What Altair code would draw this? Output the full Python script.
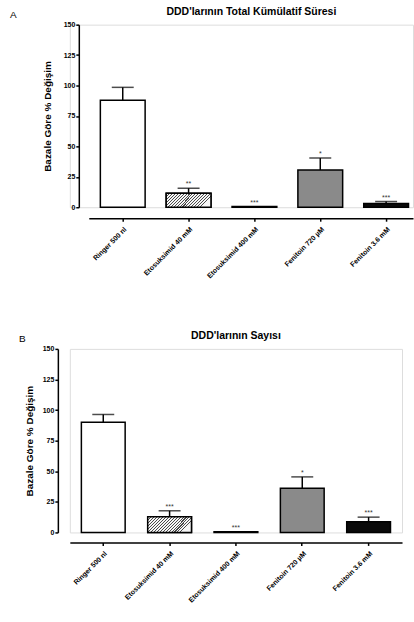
import altair as alt
import pandas as pd

categories = ["Ringer 500 nl", "Etosuksimid 40 mM", "Etosuksimid 400 mM", "Fenitoin 720 µM", "Fenitoin 3.6 mM"]
fill_colors = ["#ffffff", "#d9d9d9", "#000000", "#8a8a8a", "#0a0a0a"]

a_title = "DDD'larının Total Kümülatif Süresi"
a_values = [88, 11.5, 0.5, 30.6, 3.0]
a_upper = [98.5, 15.6, None, 40.4, 4.7]
a_stars = ["", "**", "***", "*", "***"]

b_title = "DDD'larının Sayısı"
b_values = [90, 12.8, 0.5, 36.1, 8.7]
b_upper = [96.4, 17.7, None, 45.4, 12.5]
b_stars = ["", "***", "***", "*", "***"]

y_ticks = [0, 25, 50, 75, 100, 125, 150]
y_title = "Bazale Göre % Değişim"
FONT = "Liberation Sans"


def hatch(k, period=0.06, frac=0.35):
    stops = []
    i = 0
    while i * period < 1:
        s = i * period
        m = min(1, s + period * frac)
        e = min(1, s + period)
        stops += [alt.GradientStop(color="#4a4a4a", offset=s),
                  alt.GradientStop(color="#4a4a4a", offset=m),
                  alt.GradientStop(color="#f6f6f6", offset=m),
                  alt.GradientStop(color="#f6f6f6", offset=e)]
        i += 1
    return alt.LinearGradient(gradient="linear", stops=stops, x1=0, y1=0, x2=1, y2=k)


def panel(title, values, upper, stars, label, width, height, xscale, x_offset,
          y_offset, title_pad, title_dx, label_x, k):
    df = pd.DataFrame({"cat": categories, "value": values, "upper": upper, "stars": stars})
    base = alt.Chart(df).transform_calculate(
        star_y="isValid(datum.upper) ? datum.upper : datum.value"
    )
    x = alt.X("cat:N", sort=categories, scale=xscale,
              axis=alt.Axis(title=None, labelAngle=-45, labelFontSize=7, labelFontWeight="bold",
                            labelFont=FONT, tickSize=3, tickWidth=1.5, domainWidth=1.5,
                            domainColor="black", tickColor="black", labelColor="black",
                            offset=x_offset, labelPadding=4))
    ysc = alt.Scale(domain=[0, 150], nice=False)
    yax = alt.Axis(title=y_title, values=y_ticks, grid=False, labelFontSize=7,
                   labelFontWeight="bold", labelFont=FONT, titleFont=FONT, titleFontSize=10,
                   titleFontWeight="bold", titleColor="black", labelColor="black",
                   tickSize=3, tickWidth=1.5, domainWidth=1.5, domainColor="black",
                   tickColor="black", offset=y_offset, titlePadding=title_pad, labelPadding=1)
    bars = base.mark_bar(stroke="black", strokeWidth=1.5).encode(
        x=x, y=alt.Y("value:Q", scale=ysc, axis=yax),
        fill=alt.Fill("cat:N", scale=alt.Scale(domain=categories, range=fill_colors), legend=None),
    )
    hatched = base.transform_filter(alt.datum.cat == categories[1]).mark_bar(
        fill=hatch(k), stroke="black", strokeWidth=1.5
    ).encode(x=x, y=alt.Y("value:Q", scale=ysc, axis=yax))
    err = base.transform_filter("isValid(datum.upper)")
    stem = err.mark_rule(color="black", strokeWidth=1.5).encode(
        x=x, y=alt.Y("upper:Q", scale=ysc, axis=yax), y2="value:Q")
    cap = err.mark_tick(color="black", thickness=1.5, size=22).encode(
        x=x, y=alt.Y("upper:Q", scale=ysc, axis=yax))
    txt = base.mark_text(baseline="bottom", dy=-1, fontSize=7, color="#333333", font=FONT).encode(
        x=x, y=alt.Y("star_y:Q", scale=ysc, axis=yax), text="stars:N")
    lab = alt.Chart(pd.DataFrame({"t": [label]})).mark_text(
        align="left", baseline="middle", fontSize=10, font=FONT, color="black"
    ).encode(text="t:N", x=alt.value(label_x), y=alt.value(-10))
    return alt.layer(bars, hatched, stem, cap, txt, lab).properties(
        width=width, height=height,
        title=alt.TitleParams(title, fontSize=10.5, font=FONT, fontWeight="bold", color="black",
                              offset=-8, dx=title_dx, frame="group"),
    )


A = panel(a_title, a_values, a_upper, a_stars, "A", 344, 183,
          alt.Scale(range=[19, 344], paddingInner=0.32, paddingOuter=0.122, align=0.72),
          11, -9, 11, 10, -60, 0.31)
B = panel(b_title, b_values, b_upper, b_stars, "B", 333, 184,
          alt.Scale(paddingInner=0.34, paddingOuter=0.174),
          10, 12, 8, 0, -51, 0.357)

chart = alt.vconcat(A, B, spacing=51).properties(
    padding={"left": 9, "top": 6, "right": 0, "bottom": 0}
).configure_view(stroke=None).configure(font=FONT)

chart.save("out.html", embed_options={"renderer": "svg", "actions": False})
